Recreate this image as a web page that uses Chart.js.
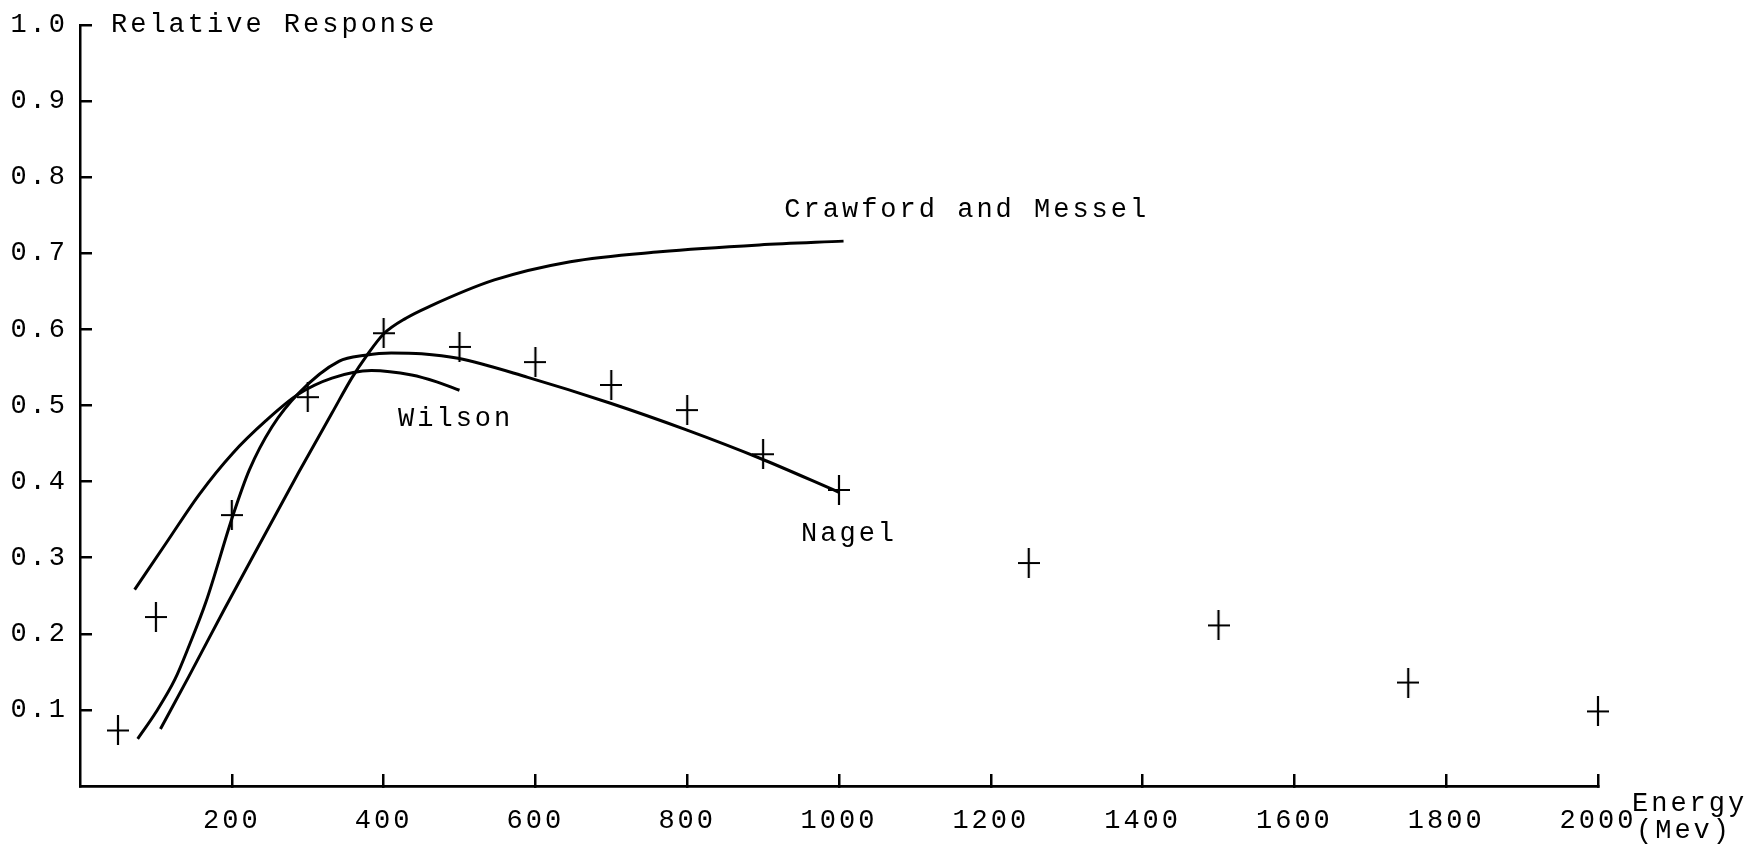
<!DOCTYPE html>
<html>
<head>
<meta charset="utf-8">
<script src="https://cdn.jsdelivr.net/npm/chart.js@4.4.1/dist/chart.umd.min.js"></script>
<style>
html,body{margin:0;padding:0;background:#fff;overflow:hidden}
#wrap{width:1750px;height:851px;position:relative;background:#fff}
</style>
</head>
<body>
<div id="wrap"><canvas id="c" width="1750" height="851"></canvas></div>
<script>
// ---- data ----
const crossEnergy   = [50, 100, 200, 300, 400, 500, 600, 700, 800, 900, 1000, 1250, 1500, 1750, 2000];
const crossResponse = [0.073, 0.222, 0.356, 0.511, 0.595, 0.577, 0.557, 0.527, 0.494, 0.436, 0.389, 0.293, 0.211, 0.136, 0.098];

const crawfordEnergy   = [106, 144, 190, 245, 288, 332, 358, 378, 400, 430, 460, 546, 646, 764, 895, 1006];
const crawfordResponse = [0.075, 0.145, 0.232, 0.333, 0.412, 0.490, 0.536, 0.566, 0.594, 0.615, 0.630, 0.665, 0.689, 0.702, 0.711, 0.716];

const nagelEnergy   = [76, 100, 125, 144, 166, 202, 223, 253, 288, 341, 376, 410, 450, 498, 590, 699, 799, 895, 1000];
const nagelResponse = [0.062, 0.097, 0.140, 0.185, 0.242, 0.357, 0.415, 0.472, 0.516, 0.558, 0.566, 0.569, 0.568, 0.562, 0.537, 0.503, 0.468, 0.431, 0.386];

const wilsonEnergy   = [72, 114, 157, 201, 245, 288, 332, 384, 437, 470, 500];
const wilsonResponse = [0.258, 0.320, 0.383, 0.437, 0.480, 0.515, 0.536, 0.546, 0.540, 0.531, 0.520];

const xTickValues = [200, 400, 600, 800, 1000, 1200, 1400, 1600, 1800, 2000];
const yTickValues = [0.1, 0.2, 0.3, 0.4, 0.5, 0.6, 0.7, 0.8, 0.9, 1.0];

const curveLabels = [
  {text: 'Crawford and Messel', energy: 928, response: 0.757},
  {text: 'Wilson',              energy: 419, response: 0.482},
  {text: 'Nagel',               energy: 950, response: 0.332}
];
const yAxisTitle = 'Relative Response';
const xAxisTitle = ['Energy', '(Mev)'];

// ---- styling ----
const FONT = "'Liberation Mono', 'DejaVu Sans Mono', monospace";
const FONT_SIZE = 27;
const SPACING = '3px';
Chart.defaults.font.family = FONT;
Chart.defaults.font.size = FONT_SIZE;
Chart.defaults.color = '#000';

function toXY(xs, ys) { return xs.map((x, i) => ({x: x, y: ys[i]})); }

// asymmetric typewriter "+" marker
const crossImg = document.createElement('canvas');
crossImg.width = 22; crossImg.height = 30;
(function () {
  const g = crossImg.getContext('2d');
  g.strokeStyle = '#000'; g.lineWidth = 2.2;
  g.beginPath();
  g.moveTo(0, 15); g.lineTo(22, 15);
  g.moveTo(11, 0); g.lineTo(11, 30);
  g.stroke();
})();

const curveStyle = {
  showLine: true, borderColor: '#000', borderWidth: 3, pointRadius: 0,
  cubicInterpolationMode: 'monotone', fill: false, clip: false
};

const textPlugin = {
  id: 'typewriterText',
  beforeDraw(chart) { chart.ctx.letterSpacing = SPACING; },
  afterDraw(chart) {
    const ctx = chart.ctx, xs = chart.scales.x, ys = chart.scales.y;
    ctx.save();
    ctx.letterSpacing = SPACING;
    ctx.fillStyle = '#000';
    ctx.font = FONT_SIZE + 'px ' + FONT;
    ctx.textBaseline = 'middle';
    ctx.textAlign = 'left';
    curveLabels.forEach(l => {
      ctx.fillText(l.text, xs.getPixelForValue(l.energy), ys.getPixelForValue(l.response));
    });
    // axis titles
    ctx.fillText(yAxisTitle, ys.right + 31, ys.getPixelForValue(1.0));
    const xr = xs.getPixelForValue(2000);
    ctx.fillText(xAxisTitle[0], xr + 34, xs.top + 18);
    ctx.fillText(xAxisTitle[1], xr + 38, xs.top + 45);
    ctx.restore();
  }
};

new Chart(document.getElementById('c'), {
  type: 'scatter',
  data: {
    datasets: [
      Object.assign({label: 'Crawford and Messel', data: toXY(crawfordEnergy, crawfordResponse)}, curveStyle),
      Object.assign({label: 'Nagel', data: toXY(nagelEnergy, nagelResponse)}, curveStyle),
      Object.assign({label: 'Wilson', data: toXY(wilsonEnergy, wilsonResponse)}, curveStyle),
      {label: 'Measured', data: toXY(crossEnergy, crossResponse), showLine: false, clip: false,
       pointStyle: crossImg, pointRadius: 11, borderColor: '#000', backgroundColor: '#000'}
    ]
  },
  options: {
    responsive: false,
    animation: false,
    events: [],
    devicePixelRatio: 1,
    layout: {padding: {left: 0, right: 152, top: 25, bottom: 0}},
    plugins: {legend: {display: false}, tooltip: {enabled: false}, title: {display: false}},
    scales: {
      x: {
        type: 'linear', min: 0, max: 2000,
        afterFit(s) { s.height = 65; s.paddingLeft = 0; s.paddingRight = 0; },
        afterBuildTicks(s) { s.ticks = xTickValues.map(v => ({value: v})); },
        border: {display: true, color: '#000', width: 2.8},
        grid: {display: true, drawOnChartArea: false, drawTicks: true, tickLength: -12, color: '#000', lineWidth: 2.5},
        ticks: {padding: 31, maxRotation: 0, autoSkip: false, color: '#000',
                callback: v => String(v)}
      },
      y: {
        type: 'linear', min: 0, max: 1,
        afterFit(s) { s.width = 80; s.paddingTop = 0; s.paddingBottom = 0; },
        afterBuildTicks(s) { s.ticks = yTickValues.map(v => ({value: v})); },
        border: {display: true, color: '#000', width: 2.5},
        grid: {display: true, drawOnChartArea: false, drawTicks: true, tickLength: -12, color: '#000', lineWidth: 2.5},
        ticks: {padding: 24, autoSkip: false, color: '#000',
                callback: v => Number(v).toFixed(1)}
      }
    }
  },
  plugins: [textPlugin]
});
</script>
</body>
</html>
